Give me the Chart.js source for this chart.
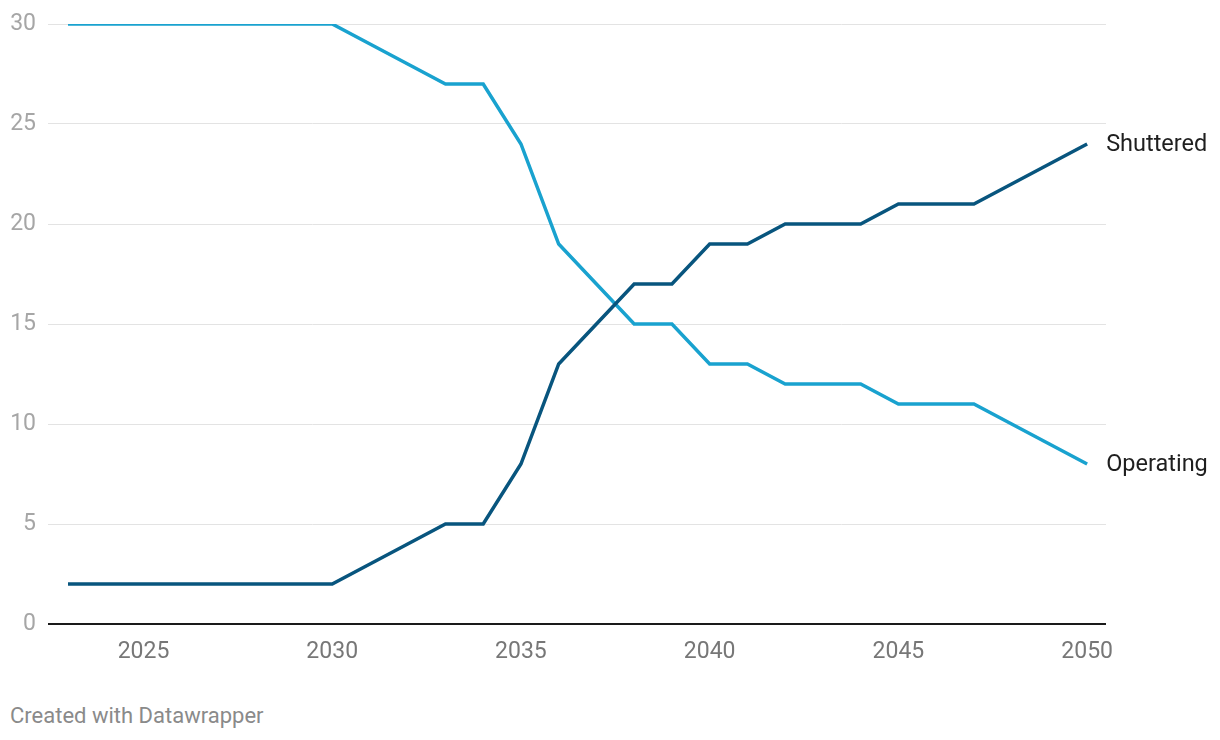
<!DOCTYPE html>
<html>
<head>
<meta charset="utf-8">
<script src="https://cdn.jsdelivr.net/npm/chart.js@4/dist/chart.umd.min.js"></script>
<style>
  body { margin: 0; background: #fff; font-family: Roboto, sans-serif; }
  #wrap { position: relative; width: 1220px; height: 740px; }
  #footer { position: absolute; left: 10px; top: 703px; font-size: 22px; color: #8a8a8a; }
</style>
</head>
<body>
<div id="wrap">
  <canvas id="chart" width="1220" height="690"></canvas>
  <div id="footer">Created with Datawrapper</div>
</div>
<script>
const years = [2023, 2024, 2025, 2026, 2027, 2028, 2029, 2030, 2031, 2032, 2033, 2034, 2035, 2036,
               2037, 2038, 2039, 2040, 2041, 2042, 2043, 2044, 2045, 2046, 2047, 2048, 2049, 2050];
const operating = [30, 30, 30, 30, 30, 30, 30, 30, 29, 28, 27, 27, 24, 19,
                   17, 15, 15, 13, 13, 12, 12, 12, 11, 11, 11, 10, 9, 8];
const shuttered = [2, 2, 2, 2, 2, 2, 2, 2, 3, 4, 5, 5, 8, 13,
                   15, 17, 17, 19, 19, 20, 20, 20, 21, 21, 21, 22, 23, 24];
const xTicks = [2025, 2030, 2035, 2040, 2045, 2050];
const yTicks = [0, 5, 10, 15, 20, 25, 30];

const toPoints = arr => arr.map((v, i) => ({ x: years[i], y: v }));

// labels at the right end of each line
const endLabels = {
    id: "endLabels",
    afterDatasetsDraw(chart) {
        const ctx = chart.ctx;
        ctx.save();
        ctx.font = "23.5px Roboto";
        ctx.fillStyle = "#1f1f1f";
        ctx.textBaseline = "middle";
        chart.data.datasets.forEach((ds, i) => {
            const meta = chart.getDatasetMeta(i);
            const last = meta.data[meta.data.length - 1];
            ctx.fillText(ds.label, last.x + 19, last.y + 1);
        });
        ctx.restore();
    }
};

new Chart(document.getElementById("chart").getContext("2d"), {
    type: "line",
    data: {
        datasets: [
            {
                label: "Shuttered",
                data: toPoints(shuttered),
                borderColor: "#08557e",
                borderWidth: 3.5,
                pointRadius: 0,
                tension: 0
            },
            {
                label: "Operating",
                data: toPoints(operating),
                borderColor: "#19a2cf",
                borderWidth: 3.5,
                pointRadius: 0,
                tension: 0
            }
        ]
    },
    options: {
        responsive: false,
        animation: false,
        layout: { padding: { top: 24, right: 114, bottom: 16, left: 0 } },
        plugins: { legend: { display: false }, tooltip: { enabled: false } },
        scales: {
            x: {
                type: "linear",
                min: 2022.47,
                max: 2050.5,
                afterBuildTicks: scale => { scale.ticks = xTicks.map(v => ({ value: v })); },
                afterFit: scale => { scale.height = 50; },
                grid: { display: false, drawTicks: false },
                border: { display: false },
                ticks: {
                    padding: 14,
                    color: "#777",
                    font: { family: "Roboto", size: 23 },
                    maxRotation: 0,
                    callback: v => String(v)
                }
            },
            y: {
                min: 0,
                max: 30,
                afterBuildTicks: scale => { scale.ticks = yTicks.map(v => ({ value: v })); },
                afterFit: scale => {
                    scale.width = 48;
                    scale.paddingTop = 0;
                    scale.paddingBottom = 0;
                },
                grid: {
                    drawTicks: false,
                    color: c => c.tick.value === 0 ? "#1a1a1a" : "#e3e3e3",
                    lineWidth: c => c.tick.value === 0 ? 2 : 1
                },
                border: { display: false },
                ticks: {
                    padding: 12,
                    color: "#a6a6a6",
                    font: { family: "Roboto", size: 23 }
                }
            }
        }
    },
    plugins: [endLabels]
});
</script>
</body>
</html>
